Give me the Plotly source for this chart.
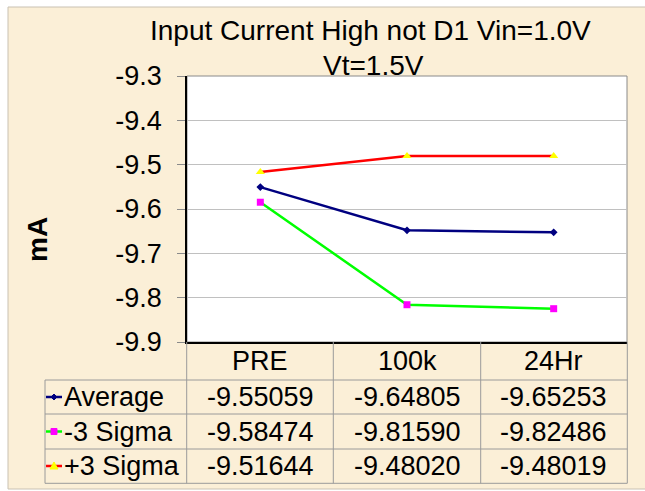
import plotly.graph_objects as go

# ---- data ----
categories = ["PRE", "100k", "24Hr"]
series_names = ["Average", "-3 Sigma", "+3 Sigma"]
average = [-9.55059, -9.64805, -9.65253]
minus3 = [-9.58474, -9.81590, -9.82486]
plus3 = [-9.51644, -9.48020, -9.48019]
y_ticks = [-9.9, -9.8, -9.7, -9.6, -9.5, -9.4, -9.3]
title_lines = ["Input Current High not D1 Vin=1.0V", "Vt=1.5V"]
y_title = "mA"

# ---- layout geometry (pixels) ----
W, H = 645, 491
L, R, T, B = 187, 18, 76, 149
PW, PH = W - L - R, H - T - B
FONT = "Liberation Sans, Arial, sans-serif"
FS = 27
BEIGE = "#FBEFD7"
GRID_TBL = "#9a9a9a"


def px(xp):
    return (xp - L) / PW


def py(yp):
    return (H - B - yp) / PH


styles = [
    dict(line=dict(color="#000080", width=2.5), marker=dict(symbol="diamond", size=6, color="#000080")),
    dict(line=dict(color="#00FF00", width=2.5), marker=dict(symbol="square", size=7, color="#FF00FF")),
    dict(line=dict(color="#FF0000", width=2.5), marker=dict(symbol="triangle-up", size=8, color="#FFFF00")),
]
values = [average, minus3, plus3]

fig = go.Figure()
for name, vals, st in zip(series_names, values, styles):
    fig.add_trace(go.Scatter(x=categories, y=vals, mode="lines+markers", name=name,
                             line=st["line"], marker=st["marker"], cliponaxis=False))

shapes = []
# chart area background
shapes.append(dict(type="rect", xref="paper", yref="paper", x0=px(8), x1=px(660), y0=py(489), y1=py(7),
                   fillcolor=BEIGE, line=dict(color="#c9c1b2", width=1), layer="below"))
# plot area
shapes.append(dict(type="rect", xref="paper", yref="paper", x0=0, x1=1, y0=0, y1=1,
                   fillcolor="white", line=dict(color="#8a8a8a", width=1), layer="below"))

# data table grid
col_edges = [186.7, 333.3, 480.7, 627.3]
row_edges = [380, 414, 449, 483.3]
for ye in row_edges:
    shapes.append(dict(type="line", xref="paper", yref="paper", x0=px(45), x1=px(627.3), y0=py(ye), y1=py(ye),
                       line=dict(color=GRID_TBL, width=1)))
for xe in col_edges:
    shapes.append(dict(type="line", xref="paper", yref="paper", x0=px(xe), x1=px(xe), y0=py(342), y1=py(483.3),
                       line=dict(color=GRID_TBL, width=1)))
shapes.append(dict(type="line", xref="paper", yref="paper", x0=px(45), x1=px(45), y0=py(380), y1=py(483.3),
                   line=dict(color=GRID_TBL, width=1)))

annotations = []
# title
annotations.append(dict(text=title_lines[0], xref="paper", yref="paper", x=px(370), y=py(31),
                        xanchor="center", yanchor="middle", showarrow=False, font=dict(family=FONT, size=28, color="black")))
annotations.append(dict(text=title_lines[1], xref="paper", yref="paper", x=px(373), y=py(65),
                        xanchor="center", yanchor="middle", showarrow=False, font=dict(family=FONT, size=28, color="black")))
# y title
annotations.append(dict(text="<b>%s</b>" % y_title, xref="paper", yref="paper", x=px(37), y=py(240), textangle=-90,
                        xanchor="center", yanchor="middle", showarrow=False, font=dict(family=FONT, size=28, color="black")))
# header row
for c in categories:
    annotations.append(dict(text=c, xref="x", yref="paper", x=c, y=py(361), xanchor="center", yanchor="middle",
                            showarrow=False, font=dict(family=FONT, size=FS, color="black")))
row_centers = [397, 431.5, 466]
for name, vals, st, yc in zip(series_names, values, styles, row_centers):
    annotations.append(dict(text=name, xref="paper", yref="paper", x=px(62), y=py(yc), xanchor="left",
                            yanchor="middle", showarrow=False, font=dict(family=FONT, size=FS, color="black")))
    for c, v in zip(categories, vals):
        annotations.append(dict(text="%.5f" % v, xref="x", yref="paper", x=c, y=py(yc), xanchor="center",
                                yanchor="middle", showarrow=False, font=dict(family=FONT, size=FS, color="black")))
    # legend key line
    shapes.append(dict(type="line", xref="paper", yref="paper", x0=px(46), x1=px(62), y0=py(yc), y1=py(yc),
                       line=dict(color=st["line"]["color"], width=2.5)))
    # legend key marker
    cx, cy = 54, yc
    sym = st["marker"]["symbol"]
    mc = st["marker"]["color"]
    if sym == "square":
        path = "M %f %f L %f %f L %f %f L %f %f Z" % (px(cx - 3), py(cy - 3), px(cx + 3), py(cy - 3),
                                                       px(cx + 3), py(cy + 3), px(cx - 3), py(cy + 3))
    elif sym == "triangle-up":
        path = "M %f %f L %f %f L %f %f Z" % (px(cx), py(cy - 4), px(cx + 4), py(cy + 3), px(cx - 4), py(cy + 3))
    else:
        path = "M %f %f L %f %f L %f %f L %f %f Z" % (px(cx), py(cy - 3), px(cx + 3), py(cy),
                                                       px(cx), py(cy + 3), px(cx - 3), py(cy))
    shapes.append(dict(type="path", xref="paper", yref="paper", path=path, fillcolor=mc,
                       line=dict(color=mc, width=1)))

fig.update_layout(
    width=W, height=H,
    margin=dict(l=L, r=R, t=T, b=B),
    paper_bgcolor="white", plot_bgcolor="white",
    showlegend=False,
    shapes=shapes, annotations=annotations,
    xaxis=dict(type="category", categoryorder="array", categoryarray=categories, range=[-0.5, 2.5],
               showticklabels=False, ticks="", showgrid=False, zeroline=False,
               showline=True, linecolor="black", linewidth=1.5),
    yaxis=dict(range=[y_ticks[0], y_ticks[-1]], tickvals=y_ticks, ticktext=["%.1f" % v for v in y_ticks],
               showgrid=True, gridcolor="#C0C0C0", gridwidth=1, zeroline=False,
               showline=True, linecolor="black", linewidth=1.5,
               ticks="outside", ticklen=8, tickcolor="#8a8a8a", ticklabelstandoff=10,
               tickfont=dict(family=FONT, size=FS, color="black")),
)

fig.write_html("out.html", config={"displayModeBar": False},
               post_script="document.body.style.margin='0';document.body.style.overflow='hidden';")
